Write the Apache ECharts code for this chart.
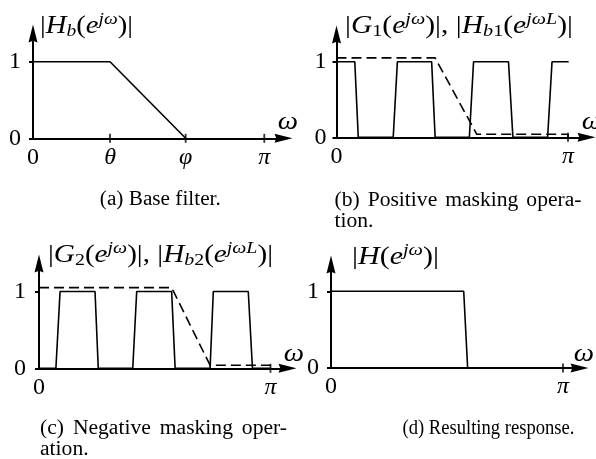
<!DOCTYPE html>
<html><head><meta charset="utf-8">
<script src="https://cdn.jsdelivr.net/npm/echarts@6/dist/echarts.min.js"></script>
<style>html,body{margin:0;padding:0;background:#fff}#c{width:596px;height:459px}</style>
</head><body><div id="c"></div>
<script>
// ---- data (x in units of pi) ----
const thetaVal = 0.333;
const phiVal = 0.66;
const baseX = [0, thetaVal, phiVal];
const baseY = [1, 1, 0];
const g1X = [0, 0.079, 0.094, 0.245, 0.263, 0.411, 0.426, 0.574, 0.592, 0.743, 0.762, 0.912, 0.931, 1.003];
const g1Y = [1, 1, 0, 0, 1, 1, 0, 0, 1, 1, 0, 0, 1, 1];
const hb1X = [0, 0.426, 0.606, 1.0, 1.0];
const hb1Y = [1.05, 1.05, 0.04, 0.04, 0];
const g2X = [0, 0.073, 0.091, 0.242, 0.256, 0.405, 0.422, 0.573, 0.588, 0.739, 0.753, 0.904, 0.922, 1.0];
const g2Y = [0, 0, 1, 1, 0, 0, 1, 1, 0, 0, 1, 1, 0, 0];
const hb2X = [0, 0.573, 0.739, 0.998, 0.998];
const hb2Y = [1.05, 1.05, 0.04, 0.04, 0];
const hX = [0, 0.572, 0.589];
const hY = [1, 1, 0];
const ticksA = [0, thetaVal, phiVal, 1];
const tickLabelsA = ['0', 'θ', 'φ', 'π'];
const ticksB = [0, 1];
const tickLabelsB = ['0', 'π'];
const yTicks = [0, 1];
const yTickLabels = ['0', '1'];

const SERIF = '"Liberation Serif", "Times New Roman", serif';
const zip = (xs, ys) => xs.map((x, i) => [x, ys[i]]);

// ---- layout ----
const AH = 19, AW = 9;
const panels = [
  {ox: 33, oy: 138.3, sx: 231.3, sy: 76.6, tipX: 293, tipY: 24, yMargin: 12,
   ticks: ticksA, tickLabels: tickLabelsA, crossTicks: [thetaVal, phiVal, 1],
   lines: [{x: baseX, y: baseY, dash: false}]},
  {ox: 336.5, oy: 137.3, sx: 231.5, sy: 75.6, tipX: 596, tipY: 25, yMargin: 10,
   ticks: ticksB, tickLabels: tickLabelsB, crossTicks: [1],
   lines: [{x: g1X, y: g1Y, dash: false}, {x: hb1X, y: hb1Y, dash: true}]},
  {ox: 39, oy: 368.3, sx: 231.5, sy: 76.8, tipX: 297, tipY: 254, yMargin: 13,
   ticks: ticksB, tickLabels: tickLabelsB, crossTicks: [1],
   lines: [{x: g2X, y: g2Y, dash: false}, {x: hb2X, y: hb2Y, dash: true}]},
  {ox: 331, oy: 368, sx: 232, sy: 76.7, tipX: 589, tipY: 255, yMargin: 12,
   ticks: ticksB, tickLabels: tickLabelsB, crossTicks: [1],
   lines: [{x: hX, y: hY, dash: false}]}
];

const arrowPath = 'path://M5,0L10,20L5,18L0,20Z';
const grids = [], xAxes = [], yAxes = [], series = [];
panels.forEach((p, k) => {
  const top = p.tipY + AH / 2;
  const width = p.tipX - AH / 2 - p.ox;
  const height = p.oy - top;
  grids.push({left: p.ox, top: top, width: width, height: height, outerBoundsMode: 'none'});
  xAxes.push({
    type: 'value', gridIndex: k, min: 0, max: width / p.sx,
    axisLine: {show: true, onZero: false, symbol: ['none', arrowPath], symbolSize: [AW, AH],
      lineStyle: {color: '#000', width: 2}},
    axisTick: {show: false},
    splitLine: {show: false},
    axisLabel: {
      show: true, customValues: p.ticks, margin: 7,
      formatter: v => {
        let idx = 0, best = 1e9;
        p.ticks.forEach((t, j) => { if (Math.abs(t - v) < best) { best = Math.abs(t - v); idx = j; } });
        const s = p.tickLabels[idx];
        return s === '0' ? '{n|0}' : '{i|' + s + '}';
      },
      rich: {
        n: {fontFamily: SERIF, fontSize: 24, color: '#000'},
        i: {fontFamily: SERIF, fontSize: 24, fontStyle: 'italic', color: '#000'}
      }
    }
  });
  yAxes.push({
    type: 'value', gridIndex: k, min: 0, max: height / p.sy,
    axisLine: {show: true, onZero: false, symbol: ['none', arrowPath], symbolSize: [AW, AH],
      lineStyle: {color: '#000', width: 2}},
    axisTick: {show: true, customValues: yTicks, length: 4, lineStyle: {color: '#000', width: 2}},
    splitLine: {show: false},
    axisLabel: {
      show: true, customValues: yTicks, margin: p.yMargin,
      formatter: v => yTickLabels[yTicks.indexOf(v)] !== undefined ? yTickLabels[yTicks.indexOf(v)] : '',
      fontFamily: SERIF, fontSize: 24, color: '#000'
    }
  });
  p.lines.forEach(l => {
    series.push({
      type: 'line', xAxisIndex: k, yAxisIndex: k, data: zip(l.x, l.y),
      showSymbol: false, symbol: 'none', silent: true, animation: false, clip: false, z: 3,
      lineStyle: {color: '#000', width: 1.6, type: l.dash ? [10, 5] : 'solid'}
    });
  });
  series.push({
    type: 'scatter', xAxisIndex: k, yAxisIndex: k, data: p.crossTicks.map(t => [t, 0]),
    symbol: 'rect', symbolSize: [1.8, 9], itemStyle: {color: '#000'}, silent: true, animation: false, z: 5
  });
});

// ---- text ----
const F = (style, size) => style + ' ' + size + 'px ' + SERIF;
const measureCtx = document.createElement('canvas').getContext('2d');
const textW = (font, s) => { measureCtx.font = font; return measureCtx.measureText(s).width; };

const MS = 25, SS = 17;
const mathStyles = {
  n: {font: F('normal', MS), fill: '#000'},
  i: {font: F('italic', MS), fill: '#000'},
  sup: {font: F('italic', SS), fill: '#000', padding: [0, 0, 12, 0]},
  sub: {font: F('italic', SS), fill: '#000', padding: [12, 0, 0, 0]},
  subn: {font: F('normal', SS), fill: '#000', padding: [12, 0, 0, 0]}
};
const mathLabels = [
  {x: 40, y: 26, w: 93, tokens: [['n', '|'], ['i', 'H'], ['sub', 'b'], ['n', '('], ['i', 'e'], ['sup', 'jω'], ['n', ')|']]},
  {x: 345, y: 26, w: 228, tokens: [['n', '|'], ['i', 'G'], ['subn', '1'], ['n', '('], ['i', 'e'], ['sup', 'jω'], ['n', ')|, |'],
    ['i', 'H'], ['sub', 'b'], ['subn', '1'], ['n', '('], ['i', 'e'], ['sup', 'jωL'], ['n', ')|']]},
  {x: 48, y: 255, w: 225, tokens: [['n', '|'], ['i', 'G'], ['subn', '2'], ['n', '('], ['i', 'e'], ['sup', 'jω'], ['n', ')|, |'],
    ['i', 'H'], ['sub', 'b'], ['subn', '2'], ['n', '('], ['i', 'e'], ['sup', 'jωL'], ['n', ')|']]},
  {x: 352, y: 257, w: 87, tokens: [['n', '|'], ['i', 'H'], ['n', '('], ['i', 'e'], ['sup', 'jω'], ['n', ')|']]}
];
const omegaPos = [[288, 122], [592, 122], [294, 354], [584, 354]];
const WIDE = 1.08;
// caption lines: mode 'center' (x = centre, w = width), 'left' (x = left), 'justify' (x = left, w = line width)
const captions = [
  {mode: 'center', x: 160.3, y: 200, w: 121, size: 20, text: '(a) Base filter.'},
  {mode: 'justify', x: 334.5, y: 201, w: 247, size: 20, text: '(b) Positive masking opera-'},
  {mode: 'left', x: 334.5, y: 222, size: 20, text: 'tion.'},
  {mode: 'justify', x: 40, y: 429, w: 247, size: 20, text: '(c) Negative masking oper-'},
  {mode: 'left', x: 40, y: 450, size: 20, text: 'ation.'},
  {mode: 'center', x: 488.5, y: 429, w: 172, size: 20, text: '(d) Resulting response.'}
];
const graphics = [];
mathLabels.forEach(m => {
  const text = m.tokens.map(t => '{' + t[0] + '|' + t[1] + '}').join('');
  const natural = m.tokens.reduce((s, t) => s + textW(mathStyles[t[0]].font, t[1]), 0);
  graphics.push({type: 'text', x: m.x, y: m.y, scaleX: m.w / natural, silent: true,
    style: {text: text, rich: mathStyles, font: F('normal', MS), fill: '#000', align: 'left', verticalAlign: 'middle'}});
});
omegaPos.forEach(o => graphics.push({type: 'text', x: o[0], y: o[1], scaleX: 1.15, silent: true,
  style: {text: 'ω', font: F('italic', 25), fill: '#000', align: 'center', verticalAlign: 'middle'}}));
captions.forEach(c => {
  const capFont = F('normal', c.size);
  if (c.mode === 'justify') {
    const words = c.text.split(' ');
    const ws = words.map(w => textW(capFont, w) * WIDE);
    const gap = (c.w - ws.reduce((a, b) => a + b, 0)) / (words.length - 1);
    let x = c.x;
    words.forEach((w, j) => {
      graphics.push({type: 'text', x: x, y: c.y, scaleX: WIDE, silent: true,
        style: {text: w, font: capFont, fill: '#000', align: 'left', verticalAlign: 'middle'}});
      x += ws[j] + gap;
    });
  } else if (c.mode === 'center') {
    graphics.push({type: 'text', x: c.x, y: c.y, scaleX: c.w / textW(capFont, c.text), silent: true,
      style: {text: c.text, font: capFont, fill: '#000', align: 'center', verticalAlign: 'middle'}});
  } else {
    graphics.push({type: 'text', x: c.x, y: c.y, scaleX: WIDE, silent: true,
      style: {text: c.text, font: capFont, fill: '#000', align: 'left', verticalAlign: 'middle'}});
  }
});

const chart = echarts.init(document.getElementById('c'), null, {renderer: 'canvas'});
chart.setOption({
  animation: false,
  backgroundColor: '#fff',
  grid: grids, xAxis: xAxes, yAxis: yAxes, series: series,
  graphic: graphics
});
</script></body></html>
